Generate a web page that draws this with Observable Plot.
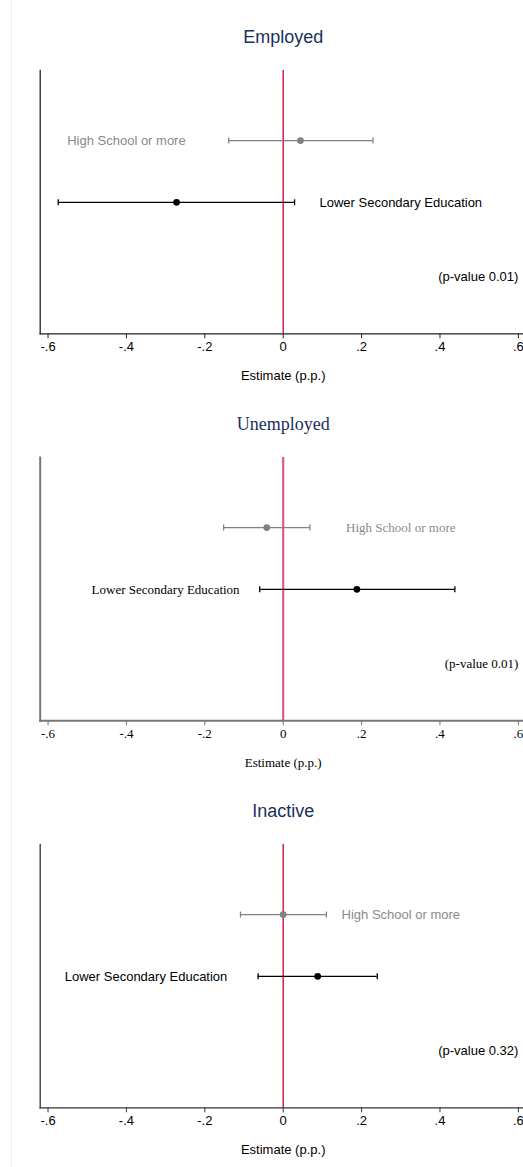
<!DOCTYPE html>
<html>
<head>
<meta charset="utf-8">
<script src="https://cdn.jsdelivr.net/npm/d3@7"></script>
<script src="https://cdn.jsdelivr.net/npm/@observablehq/plot@0.6"></script>
<style>
  html, body { margin: 0; padding: 0; background: #fff; overflow: hidden; }
  #wrap { position: relative; width: 523px; height: 1167px; }
  #edge { position: absolute; left: 11px; top: 0; width: 1px; height: 1167px; background: #f0f0f0; }
  #wrap svg { display: block; }
</style>
</head>
<body>
<div id="wrap"><div id="edge"></div></div>
<script>
// ---- data ----
const panelTitles = ["Employed", "Unemployed", "Inactive"];
const groups = ["High School or more", "Lower Secondary Education"];
const groupRows = [1, 2];
const pRow = 3.2;
const yDomain = [-0.133, 4.127];
const xDomain = [-0.62, 0.62];
const tickValues = [-0.6, -0.4, -0.2, 0, 0.2, 0.4, 0.6];
const tickLabels = ["-.6", "-.4", "-.2", "0", ".2", ".4", ".6"];
const axisTitle = "Estimate (p.p.)";

const employedEst = [0.044, -0.272];
const employedLo  = [-0.139, -0.574];
const employedHi  = [0.229, 0.029];
const employedLabelX = [-0.40, 0.30];

const unemployedEst = [-0.042, 0.188];
const unemployedLo  = [-0.152, -0.060];
const unemployedHi  = [0.068, 0.438];
const unemployedLabelX = [0.30, -0.30];

const inactiveEst = [0.000, 0.088];
const inactiveLo  = [-0.109, -0.064];
const inactiveHi  = [0.110, 0.240];
const inactiveLabelX = [0.30, -0.35];

const pValues = ["0.01", "0.01", "0.32"];

// ---- styles ----
const sans = "'Liberation Sans', Arial, sans-serif";
const serif = "'Liberation Serif', 'Times New Roman', serif";
const groupColors = ["#808080", "#000000"];
const labelColors = ["#8a8a8a", "#000000"];

const panelStyles = [
  {font: sans,  axisColor: "#222", axisWidth: 1.3, refColor: "#c8173c", refWidth: 1.4},
  {font: serif, axisColor: "#777", axisWidth: 2,   refColor: "#d6607e", refWidth: 2.2},
  {font: sans,  axisColor: "#333", axisWidth: 1.3, refColor: "#c8173c", refWidth: 1.4}
];

const panelData = [
  [employedEst, employedLo, employedHi, employedLabelX],
  [unemployedEst, unemployedLo, unemployedHi, unemployedLabelX],
  [inactiveEst, inactiveLo, inactiveHi, inactiveLabelX]
];

const capSymbol = {
  draw(context, size) {
    const h = Math.sqrt(size) / 2;
    context.moveTo(0, -h);
    context.lineTo(0, h);
  }
};

const wrap = document.getElementById("wrap");

panelTitles.forEach((title, p) => {
  const [est, lo, hi, lx] = panelData[p];
  const st = panelStyles[p];
  const rows = groups.map((g, i) => ({
    group: g, row: groupRows[i], est: est[i], lo: lo[i], hi: hi[i],
    lx: lx[i], color: groupColors[i], lcolor: labelColors[i]
  }));
  const caps = rows.flatMap(r => [{x: r.lo, row: r.row, color: r.color}, {x: r.hi, row: r.row, color: r.color}]);

  const chart = Plot.plot({
    width: 523,
    height: 387,
    marginTop: 70,
    marginBottom: 53.7,
    marginLeft: 39.7,
    marginRight: 0,
    style: {fontFamily: st.font, background: "#fff", overflow: "visible"},
    x: {domain: xDomain, range: [39.7, 525.7]},
    y: {domain: yDomain, range: [70, 333.3], axis: null},
    marks: [
      Plot.ruleX([0], {stroke: st.refColor, strokeWidth: st.refWidth}),
      Plot.frame({anchor: "left", stroke: st.axisColor, strokeWidth: st.axisWidth}),
      Plot.frame({anchor: "bottom", stroke: st.axisColor, strokeWidth: st.axisWidth}),
      Plot.axisX({
        ticks: tickValues,
        tickFormat: d => tickLabels[tickValues.indexOf(d)],
        tickSize: 5,
        tickPadding: 3,
        fontSize: 13,
        stroke: st.axisColor,
        fill: "#000",
        label: null,
        anchor: "bottom"
      }),
      Plot.ruleY(rows, {x1: "lo", x2: "hi", y: "row", stroke: "color", strokeWidth: 1.3}),
      Plot.dot(caps, {x: "x", y: "row", symbol: capSymbol, r: 3.4, stroke: "color", strokeWidth: 1.3, fill: "none"}),
      Plot.dot(rows, {x: "est", y: "row", r: 3.4, fill: "color", stroke: "none"}),
      Plot.text(rows, {x: "lx", y: "row", text: "group", fill: "lcolor", fontSize: 13, textAnchor: "middle"}),
      Plot.text([`(p-value ${pValues[p]})`], {x: 0.6, y: pRow, text: d => d, fontSize: 13, textAnchor: "end", fill: "#000"}),
      Plot.text([title], {x: 0, frameAnchor: "top", lineAnchor: "middle", dy: -33.3, text: d => d, fontSize: 18, fill: "#1b2f5c"}),
      Plot.text([axisTitle], {x: 0, frameAnchor: "bottom", lineAnchor: "middle", dy: 41.7, text: d => d, fontSize: 13, fill: "#000"})
    ]
  });
  wrap.appendChild(chart);
});
</script>
</body>
</html>
